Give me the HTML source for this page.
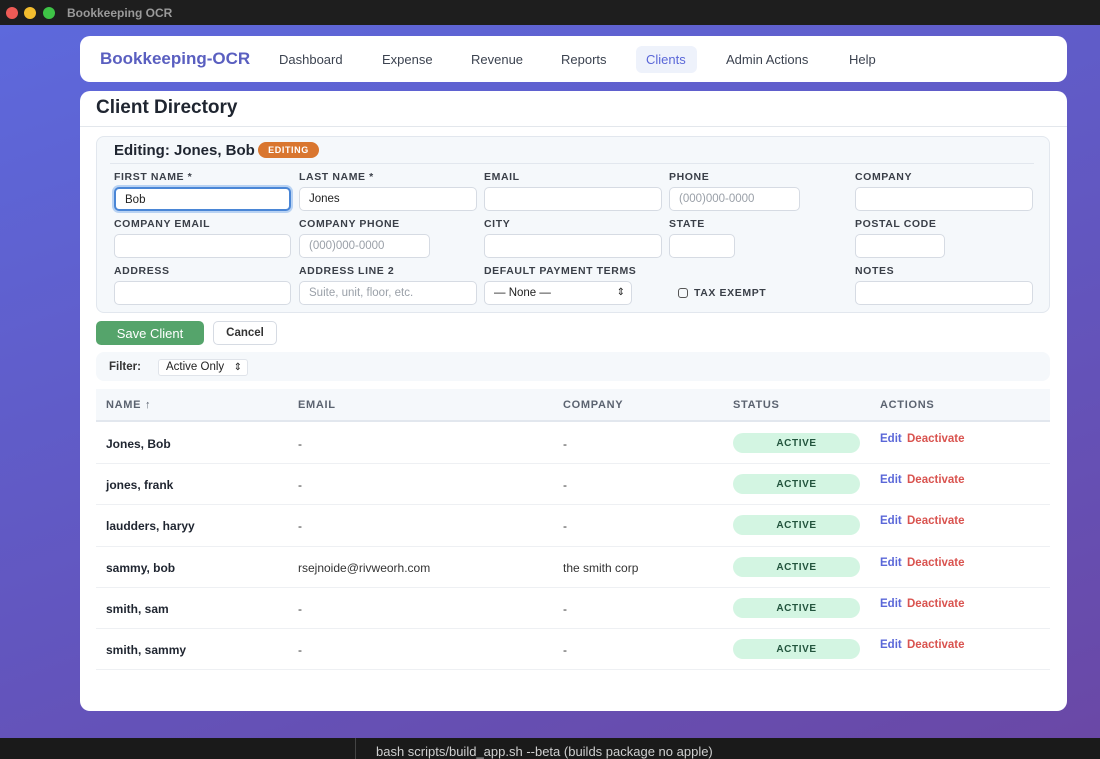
<!DOCTYPE html>
<html><head><meta charset="utf-8"><style>
*{box-sizing:border-box;margin:0;padding:0}
body{width:1100px;height:759px;overflow:hidden;font-family:"Liberation Sans",sans-serif;background:#1a1a1a;position:relative;color:#1f2530}
.a{position:absolute}
.bar{left:0;top:0;width:1100px;height:25px;background:#1e1e1e}
.dot{top:7px;width:12px;height:12px;border-radius:50%}
.bg{left:0;top:25px;width:1100px;height:713px;background:linear-gradient(160deg,#5d69dc 0%,#6256bf 55%,#6a48a6 100%)}
.card{background:#fff;border-radius:10px}
.lbl{font-size:10.5px;font-weight:bold;letter-spacing:.6px;color:#3a3f48}
.inp{height:24px;background:#fff;border:1px solid #d6dbe3;border-radius:5px;font-size:11.5px;color:#9aa0a8;padding:5px 9px}
.th{font-size:11px;font-weight:bold;letter-spacing:.7px;color:#5b6370;top:399px}
.nm{font-size:12px;font-weight:bold;color:#1f2530}
.tx{font-size:12px;color:#333}
.badge{left:733px;width:127px;height:20px;background:#d3f5e2;border-radius:10px;font-size:10px;font-weight:bold;letter-spacing:.6px;color:#22543d;display:flex;align-items:center;justify-content:center}
.ed{font-size:11.5px;font-weight:bold;color:#5a67d8;left:880px}
.de{font-size:11.5px;font-weight:bold;color:#d9534f;left:907px}
.rl{left:96px;width:954px;height:1px;background:#eef0f3}
.nav{top:52px;font-size:13px;color:#3c4350}
</style></head><body>
<div class="a bar"></div>
<div class="a dot" style="left:6px;background:#ee5b56"></div>
<div class="a dot" style="left:24px;background:#f3bd2e"></div>
<div class="a dot" style="left:43px;background:#3ec346"></div>
<div class="a" style="left:67px;top:6px;font-size:12px;font-weight:bold;color:#9a9a9a">Bookkeeping OCR</div>
<div class="a bg"></div>
<div class="a" style="left:376px;top:744px;font-size:13px;color:#cfcfcf">bash scripts/build_app.sh --beta (builds package no apple)</div>
<div class="a" style="left:355px;top:738px;width:1px;height:21px;background:#444"></div>

<div class="a card" style="left:80px;top:36px;width:987px;height:46px"></div>
<div class="a" style="left:100px;top:49px;font-size:17px;font-weight:bold;color:#5a5fc0">Bookkeeping-OCR</div>
<div class="a nav" style="left:279px">Dashboard</div>
<div class="a nav" style="left:382px">Expense</div>
<div class="a nav" style="left:471px">Revenue</div>
<div class="a nav" style="left:561px">Reports</div>
<div class="a" style="left:636px;top:46px;width:61px;height:27px;background:#eef2fb;border-radius:6px"></div>
<div class="a nav" style="left:646px;color:#5a67d8">Clients</div>
<div class="a nav" style="left:726px">Admin Actions</div>
<div class="a nav" style="left:849px">Help</div>

<div class="a card" style="left:80px;top:91px;width:987px;height:620px"></div>
<div class="a" style="left:96px;top:97px;font-size:19px;font-weight:bold;color:#1f2530">Client Directory</div>
<div class="a" style="left:80px;top:126px;width:987px;height:1px;background:#e3e7ec"></div>

<div class="a" style="left:96px;top:136px;width:954px;height:177px;background:#f5f8fb;border:1px solid #e2e7ee;border-radius:8px"></div>
<div class="a" style="left:114px;top:142px;font-size:15px;font-weight:bold">Editing: Jones, Bob</div>
<div class="a" style="left:258px;top:142px;width:61px;height:16px;background:#d9762f;border-radius:8px;color:#fff;font-size:9px;font-weight:bold;letter-spacing:.6px;display:flex;align-items:center;justify-content:center">EDITING</div>
<div class="a" style="left:110px;top:163px;width:924px;height:1px;background:#e2e7ee"></div>

<div class="a lbl" style="left:114px;top:171px">FIRST NAME *</div>
<div class="a lbl" style="left:299px;top:171px">LAST NAME *</div>
<div class="a lbl" style="left:484px;top:171px">EMAIL</div>
<div class="a lbl" style="left:669px;top:171px">PHONE</div>
<div class="a lbl" style="left:855px;top:171px">COMPANY</div>
<div class="a inp" style="left:114px;top:187px;width:177px;border:2px solid #4a86d6;box-shadow:0 0 0 2px #b8d2f3;color:#222">Bob</div>
<div class="a inp" style="left:299px;top:187px;width:178px;color:#222">Jones</div>
<div class="a inp" style="left:484px;top:187px;width:178px"></div>
<div class="a inp" style="left:669px;top:187px;width:131px">(000)000-0000</div>
<div class="a inp" style="left:855px;top:187px;width:178px"></div>

<div class="a lbl" style="left:114px;top:218px">COMPANY EMAIL</div>
<div class="a lbl" style="left:299px;top:218px">COMPANY PHONE</div>
<div class="a lbl" style="left:484px;top:218px">CITY</div>
<div class="a lbl" style="left:669px;top:218px">STATE</div>
<div class="a lbl" style="left:855px;top:218px">POSTAL CODE</div>
<div class="a inp" style="left:114px;top:234px;width:177px"></div>
<div class="a inp" style="left:299px;top:234px;width:131px">(000)000-0000</div>
<div class="a inp" style="left:484px;top:234px;width:178px"></div>
<div class="a inp" style="left:669px;top:234px;width:66px"></div>
<div class="a inp" style="left:855px;top:234px;width:90px"></div>

<div class="a lbl" style="left:114px;top:265px">ADDRESS</div>
<div class="a lbl" style="left:299px;top:265px">ADDRESS LINE 2</div>
<div class="a lbl" style="left:484px;top:265px">DEFAULT PAYMENT TERMS</div>
<div class="a lbl" style="left:855px;top:265px">NOTES</div>
<div class="a inp" style="left:114px;top:281px;width:177px"></div>
<div class="a inp" style="left:299px;top:281px;width:178px">Suite, unit, floor, etc.</div>
<div class="a inp" style="left:484px;top:281px;width:148px;color:#222">— None —<span style="position:absolute;right:6px;top:5px;font-size:10px">⇕</span></div>
<div class="a" style="left:678px;top:288px;width:10px;height:10px;border:1.5px solid #555;border-radius:3px"></div>
<div class="a lbl" style="left:694px;top:287px">TAX EXEMPT</div>
<div class="a inp" style="left:855px;top:281px;width:178px"></div>

<div class="a" style="left:96px;top:321px;width:108px;height:24px;background:#55a46b;border-radius:5px;color:#fff;font-size:13px;display:flex;align-items:center;justify-content:center">Save Client</div>
<div class="a" style="left:213px;top:321px;width:64px;height:24px;background:#fff;border:1px solid #d6dbe3;border-radius:5px;font-size:11.5px;font-weight:bold;color:#333;display:flex;align-items:center;justify-content:center">Cancel</div>

<div class="a" style="left:96px;top:352px;width:954px;height:29px;background:#f5f8fb;border-radius:8px"></div>
<div class="a" style="left:109px;top:361px;font-size:11.5px;font-weight:bold;color:#333">Filter:</div>
<div class="a" style="left:158px;top:359px;width:90px;height:17px;background:#fff;border:1px solid #e0e4ea;border-radius:3px;font-size:11.5px;color:#222;padding:1px 7px">Active Only<span style="position:absolute;right:5px;top:2px;font-size:10px">⇕</span></div>

<div class="a" style="left:96px;top:389px;width:954px;height:33px;background:#f5f8fb;border-bottom:2px solid #e2e7ee"></div>
<div class="a th" style="left:106px">NAME ↑</div>
<div class="a th" style="left:298px">EMAIL</div>
<div class="a th" style="left:563px">COMPANY</div>
<div class="a th" style="left:733px">STATUS</div>
<div class="a th" style="left:880px">ACTIONS</div>

<div class="a nm" style="left:106px;top:437px">Jones, Bob</div><div class="a tx" style="left:298px;top:437px">-</div><div class="a tx" style="left:563px;top:437px">-</div><div class="a badge" style="top:433px">ACTIVE</div><div class="a ed" style="top:433px">Edit</div><div class="a de" style="top:433px">Deactivate</div><div class="a rl" style="top:463px"></div>
<div class="a nm" style="left:106px;top:478px">jones, frank</div><div class="a tx" style="left:298px;top:478px">-</div><div class="a tx" style="left:563px;top:478px">-</div><div class="a badge" style="top:474px">ACTIVE</div><div class="a ed" style="top:474px">Edit</div><div class="a de" style="top:474px">Deactivate</div><div class="a rl" style="top:504px"></div>
<div class="a nm" style="left:106px;top:519px">laudders, haryy</div><div class="a tx" style="left:298px;top:519px">-</div><div class="a tx" style="left:563px;top:519px">-</div><div class="a badge" style="top:515px">ACTIVE</div><div class="a ed" style="top:515px">Edit</div><div class="a de" style="top:515px">Deactivate</div><div class="a rl" style="top:546px"></div>
<div class="a nm" style="left:106px;top:561px">sammy, bob</div><div class="a tx" style="left:298px;top:561px">rsejnoide@rivweorh.com</div><div class="a tx" style="left:563px;top:561px">the smith corp</div><div class="a badge" style="top:557px">ACTIVE</div><div class="a ed" style="top:557px">Edit</div><div class="a de" style="top:557px">Deactivate</div><div class="a rl" style="top:587px"></div>
<div class="a nm" style="left:106px;top:602px">smith, sam</div><div class="a tx" style="left:298px;top:602px">-</div><div class="a tx" style="left:563px;top:602px">-</div><div class="a badge" style="top:598px">ACTIVE</div><div class="a ed" style="top:598px">Edit</div><div class="a de" style="top:598px">Deactivate</div><div class="a rl" style="top:628px"></div>
<div class="a nm" style="left:106px;top:643px">smith, sammy</div><div class="a tx" style="left:298px;top:643px">-</div><div class="a tx" style="left:563px;top:643px">-</div><div class="a badge" style="top:639px">ACTIVE</div><div class="a ed" style="top:639px">Edit</div><div class="a de" style="top:639px">Deactivate</div><div class="a rl" style="top:669px"></div>
</body></html>
